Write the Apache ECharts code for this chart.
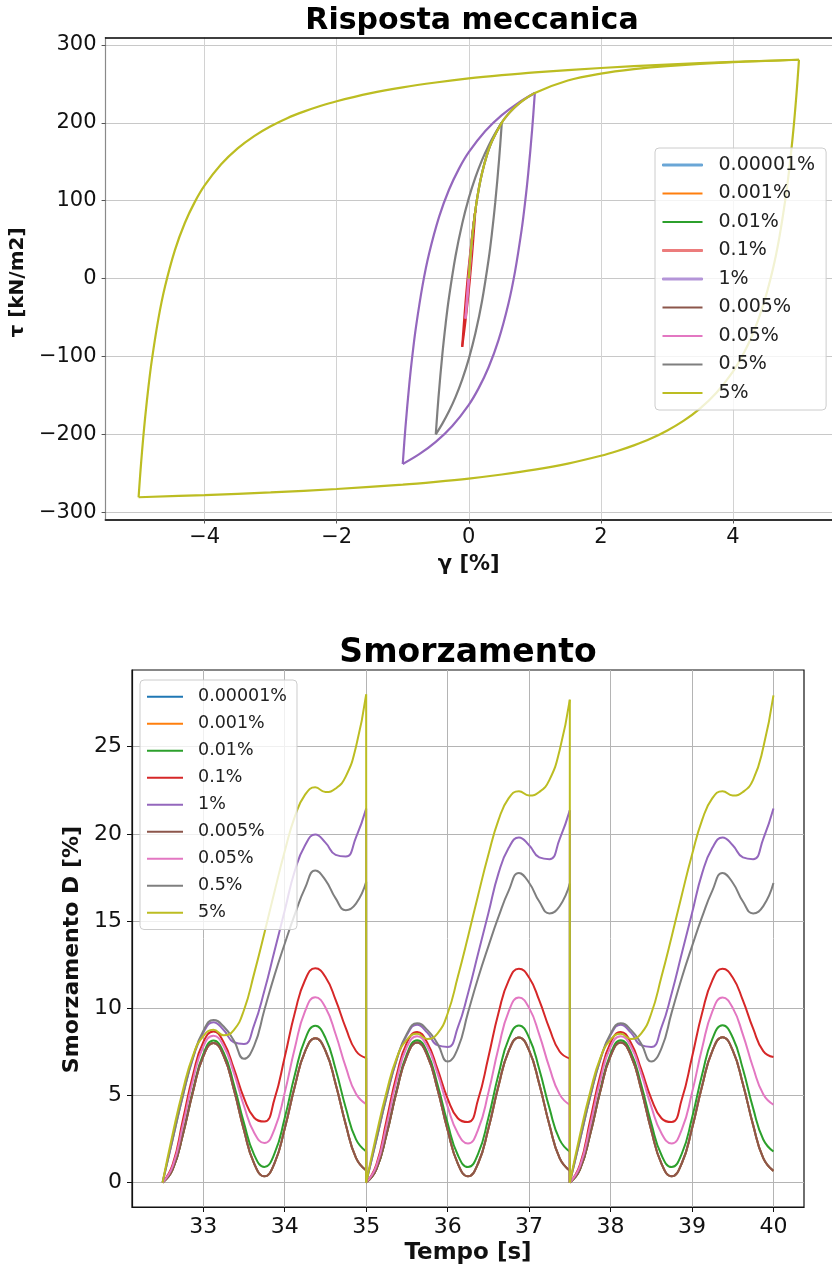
<!DOCTYPE html>
<html>
<head>
<meta charset="utf-8">
<script src="https://cdn.jsdelivr.net/npm/echarts@6.0.0/dist/echarts.min.js"></script>
<style>
  html, body { margin: 0; padding: 0; background: #ffffff; }
  #main { width: 832px; height: 1271px; }
</style>
</head>
<body>
<div id="main"></div>
<script>
// Strain amplitudes (legend order) and their line colours
const STRAINS = ['0.00001%', '0.001%', '0.01%', '0.1%', '1%', '0.005%', '0.05%', '0.5%', '5%'];
const COLORS = ['#1f77b4', '#ff7f0e', '#2ca02c', '#d62728', '#9467bd', '#8c564b', '#e377c2', '#7f7f7f', '#bcbd22'];

// Stress-strain loops: [gamma %, tau kN/m2] — initial loading, unloading, reloading
const LOOP_00001 = [[0, 0], [0.00001, 0.0125], [-0.00001, -0.0125], [0.00001, 0.0125]];
const LOOP_0001 = [[0, 0], [0.001, 1.25], [-0.001, -1.25], [0.001, 1.25]];
const LOOP_001 = [[0, 0], [0.005, 6.1], [0.01, 12.0], [0, -0.3], [-0.01, -12.0], [0, 0.3], [0.01, 12.0]];
const LOOP_01 = [[0, 0], [0.025, 28.3], [0.05, 51.6], [0.075, 71.2], [0.1, 87.9],
  [0.08, 63.9], [0.05, 31.3], [0.025, 6.9], [0, -15.3], [-0.05, -54.5], [-0.1, -87.9],
  [-0.08, -63.9], [-0.05, -31.3], [-0.025, -6.9], [0, 15.3], [0.05, 54.5], [0.1, 87.9]];
const LOOP_1 = [[0, 0], [0.01, 12.0], [0.025, 28.3], [0.05, 51.6], [0.1, 87.9], [0.15, 114.7], [0.2, 135.3],
  [0.275, 158.7], [0.35, 176.1], [0.5, 200.2], [0.625, 213.8], [0.75, 224.0], [0.875, 231.9], [1, 238.2],
  [0.96, 192.0], [0.9, 135.0], [0.85, 95.8], [0.8, 62.4], [0.7, 8.8], [0.6, -32.4], [0.45, -79.2],
  [0.3, -114.0], [0.15, -140.8], [0, -162.2], [-0.25, -189.4], [-0.5, -209.8], [-0.75, -225.6], [-1, -238.2],
  [-0.96, -192.0], [-0.9, -135.0], [-0.85, -95.8], [-0.8, -62.4], [-0.7, -8.8], [-0.6, 32.4], [-0.45, 79.2],
  [-0.3, 114.0], [-0.15, 140.8], [0, 162.2], [0.25, 189.4], [0.5, 209.8], [0.75, 225.6], [1, 238.2]];
const LOOP_0005 = [[0, 0], [0.005, 6.1], [0, -0.1], [-0.005, -6.1], [0, 0.1], [0.005, 6.1]];
const LOOP_005 = [[0, 0], [0.025, 28.3], [0.05, 51.6], [0.025, 21.9], [0, -5.0], [-0.025, -29.4], [-0.05, -51.6],
  [-0.025, -21.9], [0, 5.0], [0.025, 29.4], [0.05, 51.6]];
const LOOP_05 = [[0, 0], [0.01, 12.0], [0.025, 28.3], [0.05, 51.6], [0.1, 87.9], [0.15, 114.7], [0.2, 135.3],
  [0.275, 158.7], [0.35, 176.1], [0.425, 189.5], [0.5, 200.2],
  [0.46, 154.0], [0.4, 97.0], [0.35, 57.8], [0.3, 24.4], [0.2, -29.2], [0.1, -70.4], [0, -103.2],
  [-0.1, -129.8], [-0.2, -152.0], [-0.3, -170.6], [-0.4, -186.4], [-0.5, -200.2],
  [-0.46, -154.0], [-0.4, -97.0], [-0.35, -57.8], [-0.3, -24.4], [-0.2, 29.2], [-0.1, 70.4], [0, 103.2],
  [0.1, 129.8], [0.2, 152.0], [0.3, 170.6], [0.4, 186.4], [0.5, 200.2]];
const LOOP_5 = [[0, 0], [0.01, 12.0], [0.025, 28.3], [0.05, 51.6], [0.1, 87.9], [0.15, 114.7], [0.2, 135.3],
  [0.275, 158.7], [0.35, 176.1], [0.5, 200.2], [0.625, 213.8], [0.75, 224.0], [1, 238.2], [1.5, 254.3],
  [2, 263.2], [2.5, 268.9], [3, 272.8], [4, 277.8], [5, 280.9],
  [4.98, 256.9], [4.96, 234.7], [4.93, 204.5], [4.9, 177.7], [4.85, 138.5], [4.8, 105.1], [4.7, 51.5],
  [4.6, 10.3], [4.45, -36.5], [4.3, -71.3], [4.15, -98.1], [4.0, -119.5], [3.75, -146.7], [3.5, -167.1],
  [3.25, -182.9], [3.0, -195.5], [2.75, -205.9], [2.5, -214.3], [2.25, -221.5], [2.0, -227.7], [1.5, -237.7],
  [1.0, -245.5], [0.5, -251.7], [0, -256.9], [-0.5, -261.1], [-1, -264.7], [-2, -270.3], [-3, -274.7],
  [-4, -278.1], [-5, -280.9],
  [-4.98, -256.9], [-4.96, -234.7], [-4.93, -204.5], [-4.9, -177.7], [-4.85, -138.5], [-4.8, -105.1],
  [-4.7, -51.5], [-4.6, -10.3], [-4.45, 36.5], [-4.3, 71.3], [-4.15, 98.1], [-4.0, 119.5], [-3.75, 146.7],
  [-3.5, 167.1], [-3.25, 182.9], [-3.0, 195.5], [-2.75, 205.9], [-2.5, 214.3], [-2.25, 221.5], [-2.0, 227.7],
  [-1.5, 237.7], [-1.0, 245.5], [-0.5, 251.7], [0, 256.9], [0.5, 261.1], [1, 264.7], [2, 270.3], [3, 274.7],
  [4, 278.1], [5, 280.9]];
const LOOPS = [LOOP_00001, LOOP_0001, LOOP_001, LOOP_01, LOOP_1, LOOP_0005, LOOP_005, LOOP_05, LOOP_5];

// Damping time histories: three loading cycles, sampled at fixed offsets from each cycle start
const CYCLE_START = [32.5, 35, 37.5];
const CYCLE_OFFSET = [0, 0.125, 0.25, 0.375, 0.5, 0.625, 0.75, 0.875, 1.0, 1.125, 1.25,
  1.375, 1.5, 1.625, 1.75, 1.875, 2.0, 2.125, 2.25, 2.375, 2.5];

const DAMP_00001 = [
  [0, 0.76, 2.76, 5.24, 7.24, 8.00, 7.27, 5.36, 3.00, 1.09, 0.36, 1.12, 3.10, 5.54, 7.52, 8.28, 7.56, 5.66, 3.32, 1.42, 0.70],
  [0, 0.76, 2.76, 5.25, 7.26, 8.03, 7.29, 5.37, 3.01, 1.09, 0.36, 1.11, 3.09, 5.55, 7.55, 8.32, 7.58, 5.66, 3.30, 1.40, 0.68],
  [0, 0.76, 2.77, 5.25, 7.25, 8.03, 7.29, 5.37, 3.00, 1.09, 0.36, 1.11, 3.10, 5.56, 7.56, 8.34, 7.58, 5.66, 3.31, 1.40, 0.67]];
const DAMP_0001 = [
  [0, 0.76, 2.76, 5.24, 7.24, 8.00, 7.27, 5.36, 3.00, 1.09, 0.36, 1.12, 3.10, 5.54, 7.52, 8.28, 7.56, 5.66, 3.32, 1.42, 0.70],
  [0, 0.76, 2.76, 5.25, 7.26, 8.03, 7.29, 5.37, 3.01, 1.09, 0.36, 1.11, 3.09, 5.55, 7.55, 8.32, 7.58, 5.66, 3.30, 1.40, 0.68],
  [0, 0.76, 2.77, 5.25, 7.25, 8.03, 7.29, 5.37, 3.00, 1.09, 0.36, 1.11, 3.10, 5.56, 7.56, 8.34, 7.58, 5.66, 3.31, 1.40, 0.67]];
const DAMP_001 = [
  [0, 0.78, 2.82, 5.33, 7.37, 8.15, 7.46, 5.64, 3.41, 1.59, 0.90, 1.67, 3.70, 6.20, 8.22, 8.99, 8.30, 6.50, 4.28, 2.48, 1.79],
  [0, 0.78, 2.82, 5.33, 7.38, 8.17, 7.47, 5.64, 3.40, 1.58, 0.89, 1.66, 3.70, 6.21, 8.24, 9.01, 8.31, 6.50, 4.27, 2.46, 1.77],
  [0, 0.78, 2.83, 5.34, 7.38, 8.17, 7.47, 5.64, 3.40, 1.58, 0.89, 1.66, 3.70, 6.21, 8.24, 9.02, 8.32, 6.51, 4.27, 2.47, 1.78]];
const DAMP_01 = [
  [0, 1.05, 3.60, 6.20, 8.05, 8.66, 8.05, 6.55, 4.85, 3.72, 3.50, 4.80, 7.20, 9.75, 11.62, 12.29, 11.79, 10.48, 8.86, 7.55, 7.15],
  [0, 1.04, 3.58, 6.18, 8.03, 8.64, 8.02, 6.52, 4.82, 3.69, 3.47, 4.78, 7.19, 9.74, 11.60, 12.27, 11.76, 10.45, 8.83, 7.52, 7.12],
  [0, 1.04, 3.58, 6.18, 8.03, 8.64, 8.02, 6.52, 4.82, 3.69, 3.47, 4.78, 7.19, 9.74, 11.60, 12.26, 11.76, 10.45, 8.84, 7.54, 7.20]];
const DAMP_1 = [
  [0, 2.50, 5.00, 7.15, 8.60, 9.20, 8.75, 8.05, 7.95, 9.05, 11.00, 13.30, 15.60, 17.90, 19.35, 19.96, 19.50, 18.80, 18.70, 19.80, 21.45],
  [0, 2.45, 4.92, 7.05, 8.46, 9.06, 8.60, 7.88, 7.78, 8.90, 10.85, 13.15, 15.45, 17.75, 19.20, 19.80, 19.35, 18.65, 18.55, 19.70, 21.35],
  [0, 2.45, 4.92, 7.05, 8.46, 9.06, 8.60, 7.88, 7.78, 8.90, 10.85, 13.15, 15.45, 17.75, 19.20, 19.80, 19.35, 18.65, 18.55, 19.72, 21.45]];
const DAMP_0005 = [
  [0, 0.76, 2.76, 5.24, 7.24, 8.00, 7.27, 5.36, 3.00, 1.09, 0.36, 1.12, 3.10, 5.54, 7.52, 8.28, 7.56, 5.66, 3.32, 1.42, 0.70],
  [0, 0.76, 2.76, 5.25, 7.26, 8.03, 7.29, 5.37, 3.01, 1.09, 0.36, 1.11, 3.09, 5.55, 7.55, 8.32, 7.58, 5.66, 3.30, 1.40, 0.68],
  [0, 0.76, 2.77, 5.25, 7.25, 8.03, 7.29, 5.37, 3.00, 1.09, 0.36, 1.11, 3.10, 5.56, 7.56, 8.34, 7.58, 5.66, 3.31, 1.40, 0.67]];
const DAMP_005 = [
  [0, 0.95, 3.30, 5.90, 7.80, 8.42, 7.83, 6.30, 4.39, 2.86, 2.27, 3.07, 5.16, 7.74, 9.83, 10.63, 10.04, 8.51, 6.62, 5.09, 4.50],
  [0, 0.95, 3.28, 5.88, 7.78, 8.40, 7.80, 6.27, 4.36, 2.83, 2.24, 3.05, 5.15, 7.73, 9.82, 10.62, 10.02, 8.49, 6.59, 5.06, 4.46],
  [0, 0.95, 3.28, 5.88, 7.78, 8.40, 7.80, 6.27, 4.36, 2.83, 2.24, 3.05, 5.15, 7.73, 9.82, 10.62, 10.02, 8.49, 6.60, 5.07, 4.47]];
const DAMP_05 = [
  [0, 2.50, 5.00, 7.20, 8.70, 9.33, 8.95, 8.15, 7.10, 7.85, 9.90, 11.90, 13.70, 15.40, 16.90, 17.90, 17.35, 16.30, 15.62, 16.00, 17.25],
  [0, 2.45, 4.92, 7.08, 8.54, 9.14, 8.76, 7.97, 6.94, 7.70, 9.75, 11.75, 13.55, 15.25, 16.75, 17.76, 17.20, 16.12, 15.44, 15.85, 17.15],
  [0, 2.45, 4.92, 7.08, 8.54, 9.14, 8.76, 7.97, 6.94, 7.70, 9.75, 11.75, 13.55, 15.25, 16.75, 17.76, 17.20, 16.12, 15.44, 15.86, 17.18]];
const DAMP_5 = [
  [0, 2.80, 5.30, 7.30, 8.40, 8.76, 8.45, 8.75, 9.90, 12.00, 14.30, 16.70, 19.00, 21.00, 22.25, 22.67, 22.40, 22.60, 23.30, 25.00, 28.00],
  [0, 2.75, 5.20, 7.15, 8.20, 8.53, 8.24, 8.55, 9.70, 11.80, 14.10, 16.50, 18.80, 20.80, 22.05, 22.45, 22.20, 22.40, 23.10, 24.80, 27.70],
  [0, 2.75, 5.20, 7.15, 8.20, 8.53, 8.24, 8.55, 9.70, 11.80, 14.10, 16.50, 18.80, 20.80, 22.05, 22.45, 22.20, 22.40, 23.10, 24.95, 27.95]];
const DAMPS = [DAMP_00001, DAMP_0001, DAMP_001, DAMP_01, DAMP_1, DAMP_0005, DAMP_005, DAMP_05, DAMP_5];

// Tick labels
const GAMMA_TICKS = [-4, -2, 0, 2, 4];
const TAU_TICKS = [-300, -200, -100, 0, 100, 200, 300];
const TIME_TICKS = [33, 34, 35, 36, 37, 38, 39, 40];
const DAMP_TICKS = [0, 5, 10, 15, 20, 25];

const FONT = 'DejaVu Sans';
const minusFmt = v => (v < 0 ? '\u2212' + Math.abs(v) : String(v));

// Break a loop into its monotone branches (a new branch starts at each strain reversal)
function splitBranches(points) {
  const branches = [];
  let cur = [points[0]];
  let dir = 0;
  for (let i = 1; i < points.length; i++) {
    const d = Math.sign(points[i][0] - points[i - 1][0]);
    if (dir !== 0 && d !== 0 && d !== dir) {
      branches.push(cur);
      cur = [points[i - 1]];
    }
    if (d !== 0) dir = d;
    cur.push(points[i]);
  }
  branches.push(cur);
  return branches;
}

const series = [];
// upper panel: hysteresis loops
STRAINS.forEach((name, i) => {
  splitBranches(LOOPS[i]).forEach(branch => {
    series.push({
      type: 'line', name, xAxisIndex: 0, yAxisIndex: 0,
      data: branch, symbol: 'none', smooth: 0.35,
      lineStyle: { color: COLORS[i], width: 2.2 }, itemStyle: { color: COLORS[i] }
    });
  });
});
// lower panel: damping, one smooth curve per cycle plus the reset at each cycle end
STRAINS.forEach((name, i) => {
  const cycles = DAMPS[i];
  cycles.forEach((vals, c) => {
    series.push({
      type: 'line', name, xAxisIndex: 2, yAxisIndex: 1,
      data: CYCLE_OFFSET.map((o, k) => [CYCLE_START[c] + o, vals[k]]),
      symbol: 'none', smooth: 0.5,
      lineStyle: { color: COLORS[i], width: 2 }, itemStyle: { color: COLORS[i] }
    });
    if (c + 1 < cycles.length) {
      const tEnd = CYCLE_START[c] + CYCLE_OFFSET[CYCLE_OFFSET.length - 1];
      series.push({
        type: 'line', name, xAxisIndex: 2, yAxisIndex: 1,
        data: [[tEnd, vals[vals.length - 1]], [CYCLE_START[c + 1], cycles[c + 1][0]]],
        symbol: 'none',
        lineStyle: { color: COLORS[i], width: 2 }, itemStyle: { color: COLORS[i] }
      });
    }
  });
});

const tickLabel = (size) => ({ fontFamily: FONT, fontSize: size, color: '#111' });
const axisName = (size, pad) => ({ fontFamily: FONT, fontSize: size, fontWeight: 'bold', color: '#111', padding: pad });

// a few legend handles in the upper panel are drawn lighter and thicker
const TOP_LEGEND_STYLE = {
  '0.00001%': '#6aa6d6',
  '0.1%': '#ec7c7c',
  '1%': '#b495d8'
};

const option = {
  animation: false,
  textStyle: { fontFamily: FONT },
  title: [
    { text: 'Risposta meccanica', left: 472, top: 6, textAlign: 'center', padding: 0,
      textStyle: { fontFamily: FONT, fontSize: 30, fontWeight: 'bold', color: '#000' } },
    { text: 'Smorzamento', left: 468, top: 637, textAlign: 'center', padding: 0,
      textStyle: { fontFamily: FONT, fontSize: 33, fontWeight: 'bold', color: '#000' } }
  ],
  grid: [
    { left: 105, top: 37.5, width: 734, height: 482, show: false },
    { left: 132, top: 670, width: 672, height: 537, show: true, borderColor: '#111', borderWidth: 1.2, backgroundColor: 'transparent' }
  ],
  legend: [
    {
      data: STRAINS.map(n => TOP_LEGEND_STYLE[n]
        ? { name: n, itemStyle: { color: TOP_LEGEND_STYLE[n], borderColor: TOP_LEGEND_STYLE[n], borderWidth: 1 } }
        : { name: n }),
      orient: 'vertical', left: 655, top: 148,
      icon: 'rect', itemWidth: 40, itemHeight: 2, itemGap: 9.5,
      itemStyle: { borderWidth: 0 },
      padding: [7.5, 11, 7.5, 7],
      backgroundColor: 'rgba(255,255,255,0.8)', borderColor: '#cccccc', borderWidth: 1, borderRadius: 4,
      selectedMode: false,
      textStyle: { fontFamily: FONT, fontSize: 19, color: '#222', padding: [0, 0, 0, 11] }
    },
    {
      data: STRAINS.slice(),
      orient: 'vertical', left: 140, top: 680,
      icon: 'rect', itemWidth: 36, itemHeight: 2, itemGap: 9,
      itemStyle: { borderWidth: 0 },
      padding: [7.75, 10, 7.75, 7],
      backgroundColor: 'rgba(255,255,255,0.8)', borderColor: '#cccccc', borderWidth: 1, borderRadius: 4,
      selectedMode: false,
      textStyle: { fontFamily: FONT, fontSize: 17.5, color: '#222', padding: [0, 0, 0, 10] }
    }
  ],
  xAxis: [
    {
      gridIndex: 0, type: 'value', min: -5.5, max: 5.5, splitNumber: 5,
      axisLine: { show: true, onZero: false, lineStyle: { color: '#333', width: 2 } },
      axisTick: { show: true, length: 4, customValues: GAMMA_TICKS, lineStyle: { color: '#555' } },
      axisLabel: Object.assign({ customValues: GAMMA_TICKS, formatter: minusFmt, margin: 8 }, tickLabel(21)),
      splitLine: { show: true, lineStyle: { color: '#d2d2d2', width: 1 } },
      name: 'γ [%]', nameLocation: 'middle', nameGap: 35, nameTextStyle: axisName(21)
    },
    {
      gridIndex: 0, type: 'value', position: 'top', min: -5.5, max: 5.5,
      axisLine: { show: true, onZero: false, lineStyle: { color: '#000', width: 1.5 } },
      axisTick: { show: false }, axisLabel: { show: false }, splitLine: { show: false }
    },
    {
      gridIndex: 1, type: 'value', min: 32.125, max: 40.375, splitNumber: 8,
      axisLine: { show: true, onZero: false, lineStyle: { color: '#111', width: 1.2 } },
      axisTick: { show: true, length: 5, customValues: TIME_TICKS, lineStyle: { color: '#111' } },
      axisLabel: Object.assign({ customValues: TIME_TICKS, margin: 9 }, tickLabel(22)),
      splitLine: { show: true, lineStyle: { color: '#b4b4b4', width: 1 } },
      name: 'Tempo [s]', nameLocation: 'middle', nameGap: 35, nameTextStyle: axisName(23)
    }
  ],
  yAxis: [
    {
      gridIndex: 0, type: 'value', min: -309.5, max: 309.5, splitNumber: 6,
      axisLine: { show: true, onZero: false, lineStyle: { color: '#8a8a8a', width: 1.2 } },
      axisTick: { show: true, length: 4, customValues: TAU_TICKS, lineStyle: { color: '#555' } },
      axisLabel: Object.assign({ customValues: TAU_TICKS, formatter: minusFmt, margin: 9 }, tickLabel(21)),
      splitLine: { show: true, lineStyle: { color: '#c8c8c8', width: 1 } },
      name: 'τ [kN/m2]', nameLocation: 'middle', nameRotate: 90, nameGap: 73,
      nameTextStyle: axisName(20, [0, 8, 0, 0])
    },
    {
      gridIndex: 1, type: 'value', min: -1.4, max: 29.4, splitNumber: 6,
      axisLine: { show: true, onZero: false, lineStyle: { color: '#111', width: 1.2 } },
      axisTick: { show: true, length: 5, customValues: DAMP_TICKS, lineStyle: { color: '#111' } },
      axisLabel: Object.assign({ customValues: DAMP_TICKS, margin: 10 }, tickLabel(22)),
      splitLine: { show: true, lineStyle: { color: '#b4b4b4', width: 1 } },
      name: 'Smorzamento D [%]', nameLocation: 'middle', nameRotate: 90, nameGap: 49,
      nameTextStyle: axisName(22, [0, 22, 0, 0])
    }
  ],
  series
};

const chart = echarts.init(document.getElementById('main'), null, { renderer: 'canvas' });
chart.setOption(option);
</script>
</body>
</html>
